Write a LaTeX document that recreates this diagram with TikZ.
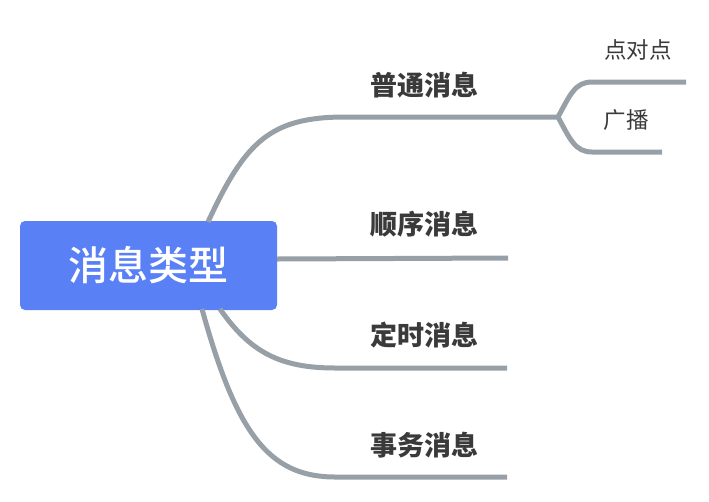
\documentclass[tikz,border=0pt]{standalone}
\usepackage{fontspec}
\newfontfamily\cjk{Noto Sans CJK SC}
\IfFontExistsTF{Noto Sans CJK SC Medium}
  {\newfontfamily\cjkmed{Noto Sans CJK SC Medium}}
  {\newfontfamily\cjkmed{Noto Sans CJK SC}[FakeBold=1.2]}
\definecolor{rootblue}{HTML}{5A80F6}
\definecolor{branchgray}{HTML}{979FA7}
\definecolor{txtdark}{HTML}{3A3A3A}
\begin{document}
\begin{tikzpicture}[x=1pt,y=-1pt,
  rootbox/.style={fill=rootblue,rounded corners=5pt,minimum width=257pt,minimum height=89pt,inner sep=0pt,text=white,font=\cjkmed\fontsize{40}{42}\selectfont},
  branchlabel/.style={text=txtdark,font=\cjk\bfseries\fontsize{27}{29}\selectfont,inner sep=0pt},
  sublabel/.style={text=txtdark,font=\cjk\fontsize{22.5}{24}\selectfont,inner sep=0pt},
  link/.style={draw=branchgray,line width=5pt,line cap=butt}]
\useasboundingbox (0,0) rectangle (709,501);
\node[rootbox] (root) at (148.5,265.5) {消息类型};
\coordinate (r1) at (208,222);
\coordinate (r2) at (277,259);
\coordinate (r3) at (220,309);
\coordinate (r4) at (202,309);
\coordinate (e1) at (558,117);
\coordinate (e2) at (508,258);
\coordinate (e3) at (507,368);
\coordinate (e4) at (507,477);
\coordinate (s1) at (686,82);
\coordinate (s2) at (662,152);
\node[branchlabel] (b1) at (424,85) {普通消息};
\node[branchlabel] (b2) at (424,224) {顺序消息};
\node[branchlabel] (b3) at (424,335) {定时消息};
\node[branchlabel] (b4) at (424,445) {事务消息};
\node[sublabel] (c1) at (638,50) {点对点};
\node[sublabel] (c2) at (626,120) {广播};
\draw[link] (r1) .. controls (245,142) and (270,117) .. (345,117) -- (e1);
\draw[link] (r2) -- (e2);
\draw[link] (r3) .. controls (250,352) and (280,368) .. (335,368) -- (e3);
\draw[link] (r4) .. controls (236,432) and (268,477) .. (335,477) -- (e4);
\draw[link] (e1) .. controls (570,95) and (575,82) .. (592,82) -- (s1);
\draw[link] (e1) .. controls (570,139) and (575,152) .. (592,152) -- (s2);
\end{tikzpicture}
\end{document}
